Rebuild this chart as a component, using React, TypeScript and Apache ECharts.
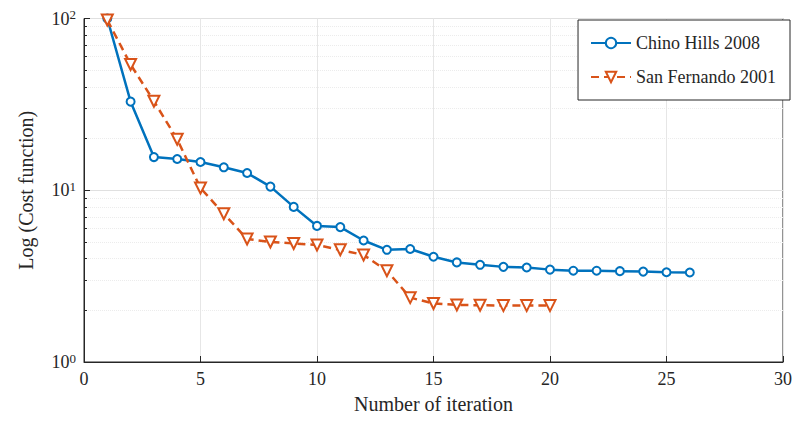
import { useEffect, useRef } from "react";
import * as echarts from "echarts";

const iterationsChino = [1, 2, 3, 4, 5, 6, 7, 8, 9, 10, 11, 12, 13, 14, 15, 16, 17, 18, 19, 20, 21, 22, 23, 24, 25, 26];
const chinoHills = [100, 32.8, 15.6, 15.2, 14.6, 13.6, 12.6, 10.5, 8.0, 6.2, 6.1, 5.1, 4.5, 4.55, 4.1, 3.8, 3.68, 3.58, 3.55, 3.45, 3.4, 3.4, 3.38, 3.36, 3.33, 3.32];
const iterationsSan = [1, 2, 3, 4, 5, 6, 7, 8, 9, 10, 11, 12, 13, 14, 15, 16, 17, 18, 19, 20];
const sanFernando = [98, 54, 33, 19.8, 10.3, 7.3, 5.2, 5.0, 4.9, 4.8, 4.5, 4.2, 3.4, 2.37, 2.19, 2.15, 2.14, 2.13, 2.13, 2.13];

const FONT = "Liberation Serif";

export default function App() {
  const ref = useRef<HTMLDivElement | null>(null);

  useEffect(() => {
    if (!ref.current) return;
    const chart = echarts.init(ref.current, undefined, { renderer: "svg" });
    chart.setOption({
      animation: false,
      textStyle: { fontFamily: FONT },
      grid: { left: 72, right: 2, top: 9, bottom: 55, show: true, borderColor: "#262626", borderWidth: 1 },
      legend: {
        orient: "vertical",
        right: 5,
        top: 12,
        padding: [14, 14, 14, 12],
        borderColor: "#262626",
        borderWidth: 1,
        backgroundColor: "#fff",
        itemWidth: 40,
        itemHeight: 13,
        itemGap: 16,
        textStyle: { fontFamily: FONT, fontSize: 18, color: "#262626" },
        data: ["Chino Hills 2008", "San Fernando 2001"],
      },
      xAxis: {
        type: "value",
        min: 0,
        max: 30,
        interval: 5,
        name: "Number of iteration",
        nameLocation: "middle",
        nameGap: 32,
        nameTextStyle: { fontFamily: FONT, fontSize: 20, color: "#262626" },
        axisLine: { onZero: false, lineStyle: { color: "#262626" } },
        axisTick: { inside: true, length: 6, lineStyle: { color: "#262626" } },
        axisLabel: { fontFamily: FONT, fontSize: 18, color: "#262626" },
        splitLine: { lineStyle: { color: "#e6e6e6" } },
      },
      yAxis: {
        type: "log",
        logBase: 10,
        min: 1,
        max: 100,
        name: "Log (Cost function)",
        nameLocation: "middle",
        nameGap: 48,
        nameTextStyle: { fontFamily: FONT, fontSize: 20, color: "#262626" },
        axisLine: { lineStyle: { color: "#262626" } },
        axisTick: { inside: true, length: 6, lineStyle: { color: "#262626" } },
        minorTick: { show: true, splitNumber: 9, length: 3, lineStyle: { color: "#262626" } },
        minorSplitLine: { show: true, lineStyle: { color: "#ececec", type: "dotted" } },
        splitLine: { lineStyle: { color: "#e0e0e0" } },
        axisLabel: {
          formatter: (v: number) => `{b|10}{s|${Math.round(Math.log10(v))}}`,
          rich: {
            b: { fontFamily: FONT, fontSize: 18, color: "#262626" },
            s: { fontFamily: FONT, fontSize: 13, color: "#262626", verticalAlign: "top", padding: [0, 0, 8, 0] },
          },
        },
      },
      series: [
        {
          name: "Chino Hills 2008",
          type: "line",
          data: iterationsChino.map((x, i) => [x, chinoHills[i]]),
          symbol: "circle",
          symbolSize: 8,
          lineStyle: { color: "#0072BD", width: 2.5 },
          itemStyle: { color: "#fff", borderColor: "#0072BD", borderWidth: 2 },
          z: 3,
        },
        {
          name: "San Fernando 2001",
          type: "line",
          data: iterationsSan.map((x, i) => [x, sanFernando[i]]),
          symbol: "triangle",
          symbolRotate: 180,
          symbolSize: 11,
          lineStyle: { color: "#D95319", width: 2.5, type: [8, 5] },
          itemStyle: { color: "#fff", borderColor: "#D95319", borderWidth: 2 },
          z: 4,
        },
      ],
    });
    return () => chart.dispose();
  }, []);

  return <div ref={ref} style={{ width: 787, height: 411 }} />;
}
